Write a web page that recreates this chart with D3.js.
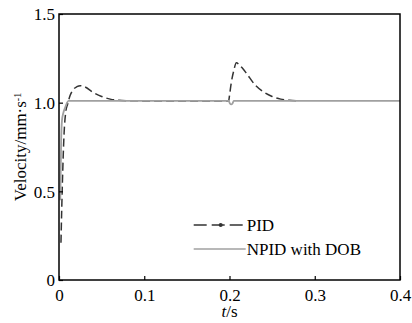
<!DOCTYPE html>
<html>
<head>
<meta charset="utf-8">
<script src="https://cdn.jsdelivr.net/npm/d3@7"></script>
<style>
body { margin: 0; background: #fff; }
</style>
</head>
<body>
<svg id="chart" width="412" height="323"></svg>
<script>
// data
var pidT = [0.0023, 0.004, 0.006, 0.008, 0.010, 0.013, 0.017, 0.021, 0.025, 0.030, 0.040, 0.050, 0.060, 0.070, 0.080, 0.100, 0.150, 0.199,
	0.2, 0.202, 0.205, 0.208, 0.212, 0.216, 0.220, 0.230, 0.240, 0.250, 0.260, 0.270, 0.280];
var pidV = [0.21, 0.55, 0.83, 0.95, 0.99, 1.04, 1.075, 1.09, 1.096, 1.09, 1.058, 1.035, 1.02, 1.013, 1.011, 1.01, 1.01, 1.01,
	1.04, 1.11, 1.18, 1.225, 1.21, 1.19, 1.165, 1.1, 1.06, 1.035, 1.02, 1.013, 1.011];
var npidT = [0.0015, 0.0025, 0.0035, 0.005, 0.007, 0.009, 0.011, 0.100, 0.199, 0.2005, 0.202, 0.2035, 0.205, 0.300, 0.400];
var npidV = [0.45, 0.78, 0.90, 0.94, 0.97, 0.995, 1.01, 1.01, 1.01, 0.995, 0.99, 0.995, 1.01, 1.01, 1.01];
var xTicks = [0, 0.1, 0.2, 0.3, 0.4];
var yTicks = [0, 0.5, 1.0, 1.5];
var seriesNames = ["PID", "NPID with DOB"];

var FONT = "'Liberation Serif', 'DejaVu Serif', 'Times New Roman', serif";

var svg = d3.select("#chart");
var margin = {top: 14, right: 12, bottom: 43, left: 59};
var innerWidth = svg.attr("width") - margin.left - margin.right;
var innerHeight = svg.attr("height") - margin.top - margin.bottom;

var g = svg.append("g")
	.attr("transform", `translate(${margin.left}, ${margin.top})`);

var x = d3.scaleLinear().domain([0, 0.4]).range([0, innerWidth]);
var y = d3.scaleLinear().domain([0, 1.5]).range([innerHeight, 0]);

var pidData = pidT.map((t, i) => ({t: t, v: pidV[i]}));
var npidData = npidT.map((t, i) => ({t: t, v: npidV[i]}));

var line = d3.line()
	.x(d => x(d.t))
	.y(d => y(d.v))
	.curve(d3.curveMonotoneX);

// dashed PID first, gray NPID drawn over it (hides PID where they coincide)
g.append("path")
	.datum(pidData)
	.attr("fill", "none")
	.attr("stroke", "#333")
	.attr("stroke-width", 1.5)
	.attr("stroke-dasharray", "8,4")
	.attr("d", line);

g.append("path")
	.datum(npidData)
	.attr("fill", "none")
	.attr("stroke", "#a0a0a0")
	.attr("stroke-width", 1.8)
	.attr("d", line);

// axes with inward ticks
var fmt = d => d === 0 ? "0" : d3.format(".1f")(d);

var xAxis = g.append("g")
	.attr("transform", "translate(0," + innerHeight + ")")
	.call(d3.axisBottom(x).tickValues(xTicks).tickSizeInner(-4).tickSizeOuter(0).tickFormat(fmt));
xAxis.selectAll("text").attr("y", 9).attr("dy", "0.71em");

var yAxis = g.append("g")
	.call(d3.axisLeft(y).tickValues(yTicks).tickSizeInner(-4).tickSizeOuter(0).tickFormat(fmt));
yAxis.selectAll("text").attr("x", -4).attr("dy", "0.35em");

svg.selectAll(".tick text")
	.style("font-family", FONT)
	.style("font-size", "17px")
	.attr("fill", "#000");
svg.selectAll(".domain").remove();
svg.selectAll(".tick line").attr("stroke", "#000").attr("stroke-width", 1.2);

// frame
g.append("rect")
	.attr("width", innerWidth)
	.attr("height", innerHeight)
	.attr("fill", "none")
	.attr("stroke", "#000")
	.attr("stroke-width", 1.5);

// axis titles
var xt = svg.append("text")
	.attr("x", margin.left + innerWidth / 2)
	.attr("y", 317)
	.attr("text-anchor", "middle")
	.style("font-family", FONT)
	.style("font-size", "17px");
xt.append("tspan").style("font-style", "italic").text("t");
xt.append("tspan").text("/s");

var yt = svg.append("text")
	.attr("transform", "translate(26," + (margin.top + innerHeight / 2) + ") rotate(-90)")
	.attr("text-anchor", "middle")
	.style("font-family", FONT)
	.style("font-size", "17px");
yt.append("tspan").text("Velocity/mm·s");
yt.append("tspan").attr("dy", "-0.5em").style("font-size", "10px").text("-1");

// legend
var legend = g.append("g")
	.attr("transform", "translate(" + x(0.158) + "," + y(0.31) + ")");
seriesNames.forEach(function(name, i) {
	var row = legend.append("g").attr("transform", "translate(0," + (i * 24) + ")");
	row.append("line")
		.attr("x1", 0).attr("x2", 52)
		.attr("stroke", i === 0 ? "#333" : "#a0a0a0")
		.attr("stroke-width", 1.5)
		.attr("stroke-dasharray", i === 0 ? "13,5" : null);
	if (i === 0) {
		row.append("circle").attr("cx", 27).attr("r", 2).attr("fill", "#333");
	}
	row.append("text")
		.attr("x", 53)
		.attr("dy", "0.35em")
		.style("font-family", FONT)
		.style("font-size", "17px")
		.text(name);
});
</script>
</body>
</html>
